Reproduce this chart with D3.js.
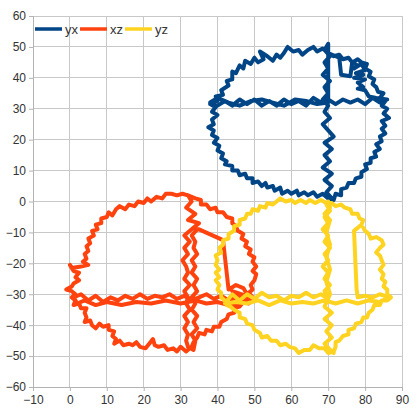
<!DOCTYPE html>
<html><head><meta charset="utf-8">
<script src="https://cdn.jsdelivr.net/npm/d3@7"></script>
<style>body{margin:0;background:#fff}svg{display:block}text{font-family:"Liberation Sans",Arial,sans-serif}</style>
</head><body>
<script>
const seriesNames = ["yx","xz","yz"];
const seriesColors = ["#004586","#ff420e","#ffd320"];
const xTicks = [-10,0,10,20,30,40,50,60,70,80,90];
const yTicks = [-60,-50,-40,-30,-20,-10,0,10,20,30,40,50,60];

const yxPoints = [
[70,48],[68.5,49.5],[67,48.5],[66,50],[64.5,49],[63,47.5],[62,49],[60.5,48.5],[59,50],[58,48],[57,46.5],[56,47.5],[55,45.5],[53.5,47],[51.5,48.5],[52.5,46],[51,45],[50,46.5],[49,44.5],[47.5,45.5],[47,43],[46,44],[45,41.5],[44,42],[44,39.5],[42.5,39],[43,37.5],[41,36],[41.5,34.5],[39.5,34],[40,32.5],[38,31.5],[39.5,30.5],[38.5,29],[40,28],[38.5,26.5],[39,25],[37.5,24],[39,23],[38.5,21.5],[40,20.5],[39,19],[40.5,18],[40,16.5],[41.5,15.5],[41,14],[42.5,13],[42,12],[44,11.5],[44,10],[45.5,10],[46,8.5],[47.5,9],[48,7.5],[49.5,7.5],[49.5,6],[51,6.5],[52,5],[53,6],[53.5,4.5],[55,5],[55.5,3.5],[57,4.5],[57.5,2.5],[59,3.5],[60,2.5],[61.5,3.5],[62,2],[63.5,3],[64.5,2],[66,3],[67,1.5],[68.5,2.5],[70,1],[71.5,0.5],[72,2.5],[73.5,2],[73.5,4],[75,4.5],[75.5,6],[77,6],[77.5,7.5],[79,8],[79,9.5],[80.5,10.5],[80,12],[81.5,12.5],[81.5,14],[83,14.5],[82.5,16],[84,17],[83,18.5],[84.5,19.5],[84,21],[85.5,22],[84.5,23.5],[85.5,24.5],[84.5,26],[86.5,27],[85,28.5],[86,30],[84.5,31],[85.5,32.5],[84,33.5],[85,35],[83.5,35.5],[83,37],[82,38],[82.5,39.5],[81,40.5],[81.5,42],[80,43],[80.5,44.5],[79,45],[78,46],[76.5,45],[75.5,46.5],[74,46],[73,47.5],[71.5,47],[70,48],
[73,46.5],[73.5,41],[76,40.5],[76.5,45],[78,44],[77,43],[79,44.5],[80,42.5],[77.5,41.5],[79.5,41],[77,40],[80,39.5],[78,38.5],[79.5,37],[78,36.5],[80,36],[81,34],[83,33.5],[86,33],
[84,32],[82,33.5],[80,31.5],[78,33],[76,32],[74,33],[72,31.5],[70,33],[68,32],[66,33.5],[64,31],[62,32.5],[60,31.5],[58,33],[56,31],[54,32.5],[52,31],[50,33],[48,31.5],[46,33],[44,31],[42,32.5],[40,31],[38,32],[40,33.5],[43,32],[46,31],[49,32.5],[52,33],[55,32],[58,31],[61,33],[64,32.5],[67,31.5],[70,32],
[70,51],[69,49],[70.5,47],[69,45],[70,43],[68.5,41],[70.5,39],[69,37],[70,35],[68.5,33],[70,31],[69,29],[70.5,27],[68.5,25],[70,23],[71.5,21],[69,19],[71,17],[69,15],[70.5,13],[68.5,11],[71,9],[69,7],[71,5],[69.5,3],[71,1],[70.5,-0.5]
];

const xzPoints = [
[32,2],[30.5,2.5],[29,2],[27.5,2.5],[26,2.5],[25,1],[23.5,1.5],[22,0],[21,1],[20,-0.5],[18.5,0],[17.5,-1.5],[16,-1],[15,-2.5],[13.5,-1.5],[12.5,-2.5],[11.5,-4.5],[10.5,-3.5],[10,-5],[8.5,-5.5],[8.5,-7],[7,-7.5],[7.5,-9],[6,-9.5],[6.5,-11],[5,-12],[5.5,-13.5],[4.5,-14.5],[5,-16],[4,-17],[4.5,-18.5],[3.5,-19.5],[5,-20.5],[3,-21],[0.5,-21.5],[0,-20.5],[1,-22.5],[2.5,-23],[1.5,-24.5],[2.5,-25.5],[1,-26.5],[0.5,-27.5],[-1,-28.5],[0.5,-29],[1.5,-30],[0.5,-31],[1.5,-32],[1,-33.5],[2.5,-33],[3,-34.5],[4.5,-34.5],[4,-36],[4.5,-37.5],[4,-39],[5.5,-38.5],[6,-40],[7,-41],[8,-39.5],[9,-40.5],[10.5,-40],[10.5,-41.5],[12,-42],[11.5,-43.5],[12.5,-44.5],[12,-46],[13.5,-45],[14.5,-46.5],[16,-46],[17,-46.5],[18,-45.5],[19,-47],[20.5,-47.5],[21.5,-46],[22.5,-44.5],[23,-46.5],[24,-47],[25.5,-46.5],[26.5,-48],[28,-47.5],[29,-48.5],[30,-47],[31.5,-48.5],[33,-47],[33.5,-45.5],[34.5,-44],[35,-42.5],[36.5,-43],[37,-41.5],[38.5,-42],[39,-40.5],[40.5,-40.5],[41,-39],[42.5,-38],[43,-36.5],[44.5,-36],[44.5,-34.5],[46,-34],[47,-32.5],[48.5,-33],[49.5,-31],[48.5,-29.5],[49.5,-28.5],[49,-27],[50,-25.5],[50.5,-23.5],[49.5,-22.5],[50.5,-21],[49.5,-19.5],[50,-18],[48.5,-17],[49,-15.5],[47.5,-14.5],[48,-13],[46.5,-12],[47,-10.5],[45.5,-9.5],[45,-8],[44,-7],[44,-5.5],[42.5,-5],[41.5,-3.5],[40,-3.5],[39.5,-2],[38,-2.5],[37,-1],[35.5,-1],[35.5,0.5],[34,1],[32,2],
[33,0],[31.5,-2],[34,-4],[32,-6],[35,-7],[33,-9],[31,-11],[32.5,-13],[31,-15],[32,-17],[30.5,-19],[31.5,-21],[32,-23],[31,-25],[32.5,-27],[31,-29],[32,-31],[31.5,-33],[32.5,-35],[31,-37],[32,-39],[31,-41],[32,-43],[31.5,-45],[32,-47],[33.5,-48],[34,-45],[33,-43],[34.5,-41],[33.5,-39],[34.5,-37],[33,-35],[34,-33],[33,-31],[34.5,-29],[33.5,-27],[34.5,-25],[33,-23],[34,-21],[33,-19],[34.5,-17],[33.5,-15],[34,-13],[33,-11],[34.5,-9],[35,-9],[41.5,-12.5],[43,-28.5],[45,-27],[47,-28],[48,-30],[46,-31],[44,-29],
[49,-31],[47,-32.5],[45,-31],[43,-32],[41,-30.5],[39,-31.5],[37,-30],[35,-31],[33,-32],[31,-30.5],[29,-31.5],[27,-30],[25,-31],[23,-30.5],[21,-31.5],[19,-30],[17,-31.5],[15,-30.5],[13,-32],[11,-31],[9,-32.5],[7,-30.5],[5,-32],[3,-30],[1,-31],[2,-33],[4,-32],[7,-33.5],[10,-32.5],[14,-33.5],[18,-32.5],[22,-33],[26,-32],[30,-33],[34,-32],[37,-33],[40,-32.5],[43,-33.5],[46,-33],[48,-31.5]
];

const yzPoints = [
[79.5,-8.5],[80,-9.5],[81,-10.5],[81.5,-12],[83,-11.5],[84.5,-12.5],[85,-14],[84,-15],[83,-16.5],[84,-17.5],[84.5,-19],[85,-20.5],[84,-22],[85,-23.5],[84.5,-25],[85.5,-26],[85,-27.5],[86,-28.5],[86,-30],[87,-31],[86,-32],[84.5,-32],[84,-33.5],[82.5,-33.5],[82,-35],[81,-36],[80.5,-37.5],[79.5,-37.5],[79,-39],[77.5,-39.5],[77,-41],[75.5,-41.5],[75.5,-43],[74,-43.5],[73,-45],[72,-45.5],[72,-47],[71.5,-48.5],[70,-49],[69,-47.5],[67.5,-47.5],[66,-46.5],[65,-48],[63.5,-48],[62,-49],[61,-47.5],[59.5,-47],[58.5,-46],[57,-46.5],[56,-45],[54.5,-45],[53.5,-43.5],[52,-44],[51.5,-42.5],[50,-41.5],[49.5,-40],[48,-39.5],[47.5,-38],[46,-37.5],[46,-36],[44.5,-35],[43.5,-34],[42.5,-33.5],[42,-32],[41,-31],[41,-29.5],[40,-28.5],[40.5,-27],[39.5,-25.5],[40.5,-24.5],[39.5,-23],[40.5,-22],[39.5,-20.5],[40,-19],[39.5,-17.5],[41,-16.5],[40.5,-15],[41.5,-14],[41.5,-12.5],[43,-12],[43,-10.5],[44.5,-9.5],[44.5,-8],[46,-7.5],[46,-6],[47.5,-5.5],[48,-4],[49,-4],[49.5,-2.5],[51,-3],[51.5,-1.5],[53,-2],[53.5,-0.5],[55,-1],[56,0],[57,1],[58.5,0],[60,0.5],[61,-0.5],[62.5,0.5],[64,-0.5],[65,0.5],[66.5,-0.5],[68,0.5],[69.5,-0.5],[71,-0.5],[72,-1.5],[73.5,-1],[74.5,-2],[76,-2.5],[76.5,-4],[78,-4],[78.5,-5.5],[79.5,-6],[79,-7.5],[77,-9.5],[77.7,-28.5],[78,-31],
[80,-30.5],[82,-31],[84,-30],[86.5,-31],[84,-32.5],[81,-32],[78,-33],[75,-32],[72,-33],[69,-32],[66,-33],[63,-32.5],[60,-33],[57,-32],[54,-33.5],[51,-32],[48,-33],[45,-32.5],[42,-33],[44,-30],[46,-32],[48,-30],[50,-31.5],[52,-29.5],[54,-31],[56,-30.5],[58,-32],[60,-30.5],[62,-31],[64,-29.5],[66,-31],[68,-30],[70,-31.5],
[69,-29],[70.5,-27],[69,-25],[70,-23],[68.5,-21],[70,-19],[69,-17],[70.5,-15],[69,-13],[70,-11],[68.5,-9],[70,-7],[69,-5],[70.5,-3],[69.5,-1],[70,0],[70.5,-2],[69,-4],[70.5,-6],[69.5,-10],[70.5,-14],[69.5,-18],[70.5,-22],[69.5,-26],[70.5,-30],[69,-34],[71,-36],[69,-38],[71,-40],[69.5,-42],[71,-44],[69,-46],[70.5,-48],[71.5,-49]
];

const allSeries = [yxPoints, xzPoints, yzPoints];

const W = 417, H = 418;
const svg = d3.select("body").append("svg").attr("width", W).attr("height", H);
const x = d3.scaleLinear().domain([-10, 90]).range([33, 402]);
const y = d3.scaleLinear().domain([-60, 60]).range([387, 16]);

const grid = svg.append("g");
grid.selectAll("line.vx").data(xTicks).enter().append("line")
  .attr("x1", d => x(d)).attr("x2", d => x(d)).attr("y1", y(60)).attr("y2", y(-60))
  .attr("stroke", "#c8c8c8").attr("stroke-width", 1).attr("shape-rendering","crispEdges");
grid.selectAll("line.hy").data(yTicks).enter().append("line")
  .attr("x1", x(-10)).attr("x2", x(90)).attr("y1", d => y(d)).attr("y2", d => y(d))
  .attr("stroke", "#c8c8c8").attr("stroke-width", 1).attr("shape-rendering","crispEdges");

const xAxis = d3.axisBottom(x).tickValues(xTicks).tickSize(4).tickPadding(4);
const yAxis = d3.axisLeft(y).tickValues(yTicks).tickSize(4).tickPadding(3);
const gx = svg.append("g").attr("transform", `translate(0,${y(-60)})`).call(xAxis);
const gy = svg.append("g").attr("transform", `translate(${x(-10)},0)`).call(yAxis);
[gx, gy].forEach(g => {
  g.selectAll("path.domain").attr("stroke", "#b3b3b3");
  g.selectAll(".tick line").attr("stroke", "#b3b3b3");
  g.selectAll("text").attr("fill", "#333").style("font-size", "12px").style("font-family", '"Liberation Sans", Arial, sans-serif');
});

const line = d3.line().x(d => x(d[0])).y(d => y(d[1]));
allSeries.forEach((pts, i) => {
  svg.append("path").datum(pts).attr("d", line)
    .attr("fill", "none").attr("stroke", seriesColors[i]).attr("stroke-width", 4)
    .attr("stroke-linejoin", "round").attr("stroke-linecap", "round");
});

const legendX = [35, 80, 125];
const lg = svg.append("g");
seriesNames.forEach((n, i) => {
  lg.append("line").attr("x1", legendX[i]).attr("x2", legendX[i] + 27).attr("y1", 29).attr("y2", 29)
    .attr("stroke", seriesColors[i]).attr("stroke-width", 3.5);
  lg.append("text").attr("x", legendX[i] + 30).attr("y", 33.5).text(n)
    .attr("fill", "#333").style("font-size", "13px");
});
</script>
</body></html>
